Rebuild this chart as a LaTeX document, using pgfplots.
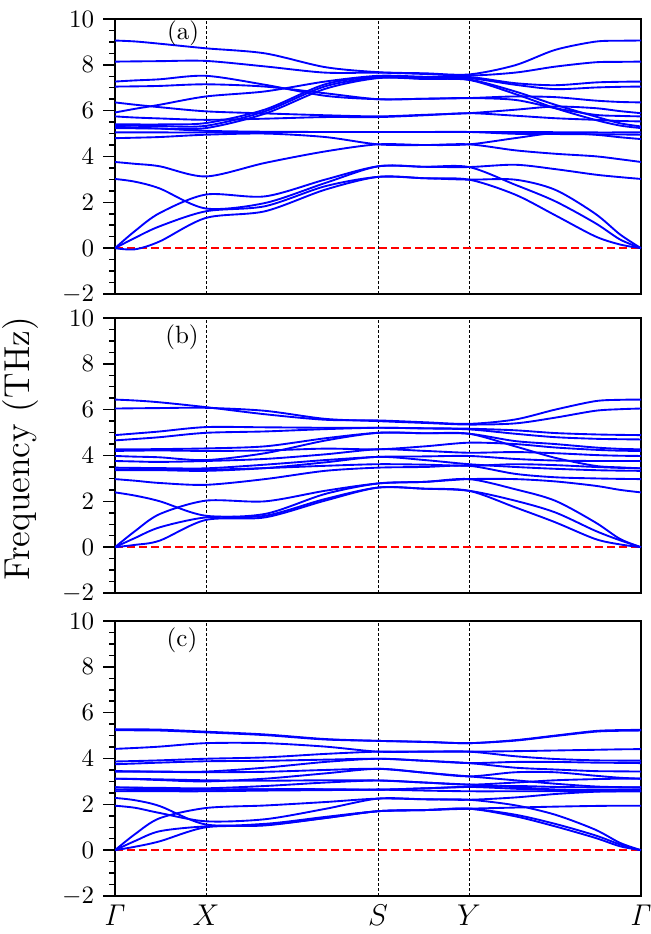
\documentclass[border=0pt]{standalone}
\usepackage{pgfplots}
\usepackage{pgfplotstable}
\pgfplotsset{compat=1.18}

\pgfplotstableread{
x A B C D E1 E2 E3 E4 F G H J I K a4 a3 a2 a1
0 9.06 8.14 7.27 7.05 5.92 5.40 5.34 5.24 6.36 5.75 5.05 5.30 4.80 3.76 3.02 0 0 0
20 9.02 8.15 7.32 7.06 6.08 5.40 5.34 5.23 6.26 5.70 5.05 5.26 4.82 3.68 2.90 0.75 0.45 -0.05
45 8.92 8.16 7.37 7.08 6.26 5.40 5.33 5.22 6.15 5.66 5.05 5.22 4.85 3.57 2.60 1.54 0.96 0.30
91 8.72 8.17 7.52 7.15 6.62 5.46 5.34 5.24 5.97 5.60 5.05 5.12 4.95 3.13 1.73 2.34 1.61 1.32
150 8.50 7.93 7.13 7.05 6.84 6.05 5.97 5.87 5.88 5.65 5.07 5.08 5.00 3.72 1.97 2.26 1.83 1.61
210 7.90 7.66 6.65 6.76 7.27 7.15 7.06 6.95 5.80 5.72 5.07 5.07 4.85 4.22 2.84 2.99 2.70 2.55
263 7.68 7.66 6.50 6.50 7.52 7.49 7.44 7.42 5.75 5.72 5.07 5.07 4.53 4.53 3.57 3.57 3.11 3.11
310 7.63 7.60 6.52 6.52 7.48 7.45 7.40 7.38 5.82 5.80 5.07 5.07 4.50 4.50 3.55 3.55 3.05 3.05
354 7.58 7.53 6.55 6.55 7.47 7.42 7.36 7.34 5.89 5.89 5.07 5.07 4.53 4.53 3.54 3.54 2.99 2.99
400 7.98 7.66 6.62 6.47 7.20 7.13 6.84 6.73 6.04 5.78 5.07 4.99 4.80 4.27 3.64 2.77 2.99 2.34
440 8.65 7.92 6.59 6.11 7.11 6.94 6.26 6.11 6.18 5.67 5.06 4.98 5.02 4.12 3.45 2.05 2.55 1.44
480 9.01 8.11 6.44 5.82 7.23 7.01 5.75 5.60 6.11 5.60 5.05 4.97 4.95 4.01 3.21 1.10 1.51 0.52
505 9.05 8.13 6.38 5.77 7.26 7.04 5.45 5.35 5.98 5.55 5.05 4.96 4.84 3.88 3.10 0.38 0.60 0.16
526 9.06 8.14 6.36 5.75 7.27 7.05 5.31 5.24 5.89 5.53 5.05 4.95 4.76 3.76 3.02 0 0 0
}\tabA

\pgfplotstableread{
x A B E1 E2 E3 E4 C D F G H I K a3 a2 a1
0 6.44 6.05 4.89 4.66 4.27 3.98 4.20 3.76 3.47 3.36 3.40 2.97 2.39 0 0 0
20 6.40 6.06 4.96 4.72 4.27 3.95 4.21 3.74 3.46 3.36 3.40 2.90 2.25 0.70 0.40 0.10
45 6.32 6.07 5.05 4.80 4.28 3.92 4.22 3.72 3.45 3.36 3.40 2.80 2.00 1.45 0.87 0.29
91 6.11 6.08 5.24 4.99 4.31 3.80 4.20 3.76 3.44 3.33 3.38 2.72 1.37 2.03 1.30 1.19
150 5.80 5.95 5.23 5.05 4.40 4.10 4.22 3.85 3.60 3.45 3.45 2.97 1.45 2.00 1.37 1.30
210 5.56 5.60 5.21 5.15 4.75 4.65 4.30 4.05 3.80 3.70 3.55 3.33 2.32 2.46 2.10 2.03
263 5.53 5.50 5.21 5.21 4.99 4.99 4.27 4.27 3.94 3.94 3.62 3.47 2.78 2.78 2.60 2.60
310 5.45 5.42 5.19 5.18 4.97 4.97 4.40 4.20 3.96 3.80 3.60 3.50 2.85 2.85 2.55 2.55
354 5.38 5.35 5.17 5.14 4.95 4.95 4.56 4.12 3.98 3.62 3.55 3.55 2.97 2.97 2.46 2.46
400 5.57 5.40 5.10 4.95 4.63 4.40 4.50 4.15 3.85 3.50 3.62 3.20 2.97 2.53 2.03 1.74
440 6.00 5.65 4.98 4.80 4.50 3.90 4.35 4.10 3.78 3.42 3.58 3.05 2.87 2.03 1.52 1.09
480 6.37 5.95 4.92 4.73 4.35 3.55 4.25 4.02 3.76 3.36 3.50 3.00 2.68 1.09 0.72 0.36
505 6.43 6.02 4.90 4.71 4.29 3.48 4.21 3.99 3.76 3.34 3.46 2.98 2.50 0.36 0.30 0.12
526 6.44 6.05 4.89 4.70 4.27 3.44 4.20 3.98 3.76 3.33 3.44 2.97 2.39 0 0 0
}\tabB

\pgfplotstableread{
x A B C D E F G H I M J N O K L a3 a2 a1
0 5.28 5.24 4.42 3.87 3.75 3.43 3.12 3.45 2.74 3.12 2.64 2.74 2.57 2.28 1.94 0 0 0
20 5.27 5.23 4.46 3.89 3.78 3.43 3.10 3.44 2.73 3.11 2.63 2.72 2.57 2.18 1.85 0.70 0.40 0.15
45 5.26 5.22 4.52 3.92 3.82 3.43 3.06 3.42 2.72 3.09 2.62 2.68 2.57 1.92 1.62 1.40 0.83 0.39
91 5.17 5.14 4.67 3.99 3.88 3.43 3.00 3.40 2.70 3.05 2.64 2.64 2.57 1.12 1.26 1.84 1.04 1.00
150 5.05 5.02 4.67 4.05 3.90 3.60 3.12 3.42 2.80 3.03 2.66 2.66 2.60 1.15 1.35 1.95 1.10 1.08
210 4.85 4.83 4.52 4.20 3.95 3.85 3.35 3.50 2.95 3.05 2.66 2.65 2.62 1.45 1.80 2.10 1.40 1.40
263 4.77 4.77 4.30 4.30 3.99 3.99 3.55 3.55 3.04 3.04 2.64 2.64 2.64 1.70 2.25 2.25 1.70 1.70
310 4.73 4.72 4.30 4.30 3.90 3.90 3.38 3.38 2.95 2.95 2.70 2.70 2.60 1.75 2.22 2.22 1.75 1.75
354 4.67 4.67 4.30 4.30 3.80 3.80 3.22 3.22 2.86 2.86 2.76 2.76 2.57 1.81 2.20 2.20 1.81 1.81
400 4.80 4.78 4.32 4.10 3.85 3.60 3.40 3.05 2.75 2.95 2.68 2.80 2.57 1.86 2.30 1.96 1.55 1.48
440 5.00 4.98 4.35 3.98 3.85 3.52 3.40 2.90 2.65 3.05 2.62 2.76 2.57 1.90 2.45 1.55 1.15 1.04
480 5.20 5.17 4.38 3.92 3.82 3.45 3.25 2.78 2.63 3.10 2.58 2.74 2.57 1.93 2.55 0.90 0.65 0.54
505 5.24 5.21 4.40 3.91 3.81 3.44 3.16 2.75 2.64 3.12 2.57 2.74 2.57 1.94 2.57 0.32 0.25 0.17
526 5.25 5.22 4.41 3.91 3.80 3.43 3.12 2.74 2.64 3.12 2.57 2.74 2.57 1.94 2.57 0 0 0
}\tabC

\tikzset{
  vline/.style={black, dash pattern=on 1.2pt off 0.8pt, line width=0.4pt},
  zline/.style={red, dash pattern=on 3.2pt off 1.6pt, line width=0.6pt},
}
\pgfplotsset{
  bandax/.style={
    scale only axis, width=210.4pt, height=110pt, anchor=north west,
    xmin=0, xmax=526, ymin=-2, ymax=10,
    ytick={-2,0,2,4,6,8,10}, minor y tick num=3,
    ytick pos=left, ytick align=outside,
    major tick length=4.8pt, minor tick length=2.4pt,
    ytick style={line width=0.6pt, black},
    minor y tick style={line width=0.6pt, black},
    xtick={0,91,263,354,526}, xticklabels={},
    xtick style={draw=none},
    axis line style={line width=0.8pt},
    tick label style={font=\normalsize},
  },
  band/.style={blue, line width=0.75pt, smooth, no markers},
}

\begin{document}
\begin{tikzpicture}
\useasboundingbox (-46pt,7.6pt) rectangle (214pt,-366pt);

\begin{axis}[bandax, at={(0,0)}]
  \pgfplotsinvokeforeach{91,263,354}{%
    \draw[vline] (axis cs:#1,-2) -- (axis cs:#1,10);}
  \draw[zline] (axis cs:0,0) -- (axis cs:526,0);
  \pgfplotsinvokeforeach{A,B,C,D,E1,E2,E3,E4,F,G,H,J,I,K,a4,a3,a2,a1}{%
    \addplot[band] table[x=x,y=#1]{\tabA};}
  \node at (axis cs:68,9.38) {(a)};
\end{axis}

\begin{axis}[bandax, at={(0,-119.6pt)}]
  \pgfplotsinvokeforeach{91,263,354}{%
    \draw[vline] (axis cs:#1,-2) -- (axis cs:#1,10);}
  \draw[zline] (axis cs:0,0) -- (axis cs:526,0);
  \pgfplotsinvokeforeach{A,B,E1,E2,E3,E4,C,D,F,G,H,I,K,a3,a2,a1}{%
    \addplot[band] table[x=x,y=#1]{\tabB};}
  \node at (axis cs:67,9.14) {(b)};
\end{axis}

\begin{axis}[bandax, at={(0,-240.8pt)},
  xticklabels={$\mathit{\Gamma}$,$X$,$S$,$Y$,$\mathit{\Gamma}$},
  xticklabel style={font=\large}]
  \pgfplotsinvokeforeach{91,263,354}{%
    \draw[vline] (axis cs:#1,-2) -- (axis cs:#1,10);}
  \draw[zline] (axis cs:0,0) -- (axis cs:526,0);
  \pgfplotsinvokeforeach{A,B,C,D,E,F,G,H,I,M,J,N,O,K,L,a3,a2,a1}{%
    \addplot[band] table[x=x,y=#1]{\tabC};}
  \node at (axis cs:67,9.16) {(c)};
\end{axis}

\node[rotate=90, font=\Large, inner sep=0pt] at (-37.6pt,-172pt) {Frequency (THz)};
\end{tikzpicture}
\end{document}
